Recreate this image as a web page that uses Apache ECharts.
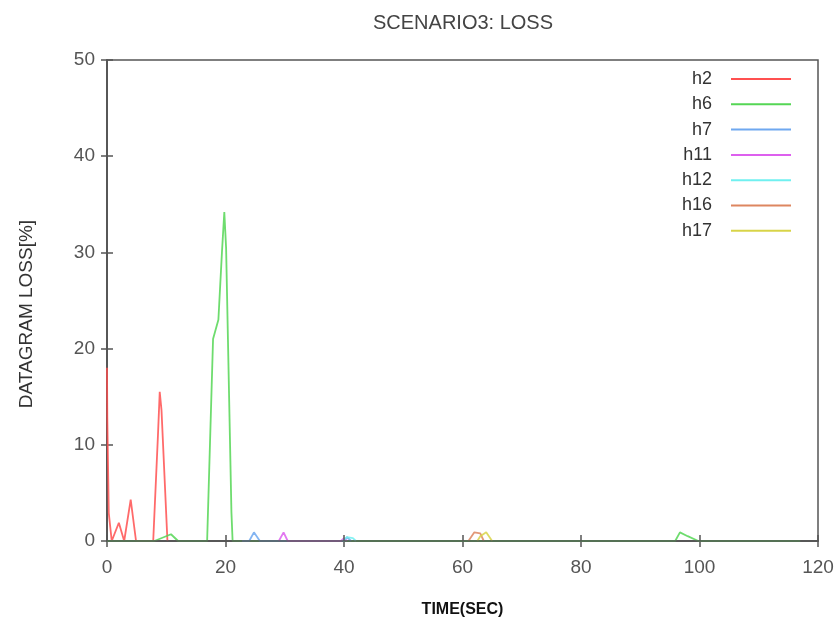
<!DOCTYPE html>
<html>
<head>
<meta charset="utf-8">
<script src="https://cdn.jsdelivr.net/npm/echarts@6/dist/echarts.min.js"></script>
<style>
  html, body { margin: 0; padding: 0; background: #fff; }
  #chart { width: 840px; height: 626px; }
</style>
</head>
<body>
<div id="chart"></div>
<script>
// Datagram loss per host, [time (s), loss %]
const h2 = [[0,18],[0.05,12.9],[0.3,2.9],[0.8,0],[2,1.9],[2.9,0],[4,4.3],[4.9,0],[7.8,0],[8.6,11],[8.9,15.5],[9.2,13.6],[10.2,0]];
const h6 = [[0,0],[8,0],[10.8,0.7],[12,0],[16.9,0],[17.9,21],[18.8,23],[19.4,30],[19.8,34.2],[20.1,30.5],[21,3],[21.2,0],[95.9,0],[96.7,0.9],[98,0.5],[99.8,0],[117,0]];
const h7 = [[22.8,0],[24,0],[24.8,0.9],[25.8,0],[40,0],[40.5,0.4],[41.2,0]];
const h11 = [[29,0],[29.8,0.9],[30.5,0],[39.5,0],[40,0.3],[40.5,0]];
const h12 = [[39.8,0],[40.5,0.4],[41.5,0.3],[42,0]];
const h16 = [[61,0],[62,0.9],[63,0.8],[63.6,0]];
const h17 = [[62.5,0],[63,0.5],[64,0.9],[65,0]];

const seriesNames = ['h2','h6','h7','h11','h12','h16','h17'];
const seriesData = [h2, h6, h7, h11, h12, h16, h17];
const seriesColors = ['#ff5050','#55d655','#6fa8f0','#dd60ee','#70f0f0','#dd8660','#d8d448'];

const xTicks = { min: 0, max: 120, interval: 20 };
const yTicks = { min: 0, max: 50, interval: 10 };

const chart = echarts.init(document.getElementById('chart'));

const fontFamily = '"Liberation Sans", Arial, sans-serif';
const axisCommon = {
  axisLine: { show: true, lineStyle: { color: '#555', width: 1.5 } },
  axisTick: { show: true, inside: true, length: 6, lineStyle: { color: '#555', width: 1.5 } },
  splitLine: { show: false }
};

// one legend per entry so text is right aligned next to its line sample
const legends = seriesNames.map((name, i) => ({
  data: [name],
  right: 44,
  top: 65 + i * 25.3,
  align: 'right',
  icon: 'rect',
  itemWidth: 60,
  itemHeight: 2,
  textStyle: { fontFamily, fontSize: 18, color: '#333', padding: [0, 14, 0, 0] }
}));

chart.setOption({
  animation: false,
  backgroundColor: '#fff',
  title: {
    text: 'SCENARIO3: LOSS',
    left: 458, top: 8, textAlign: 'center',
    textStyle: { fontFamily, fontSize: 20, fontWeight: 'normal', color: '#444' }
  },
  legend: legends,
  graphic: [{
    type: 'text',
    x: 27, y: 314,
    rotation: Math.PI / 2,
    style: {
      text: 'DATAGRAM LOSS[%]',
      font: '19px "Liberation Sans", Arial, sans-serif',
      fill: '#333',
      align: 'center',
      verticalAlign: 'middle'
    }
  }],
  grid: { left: 107, right: 22, top: 60, bottom: 85, show: true, borderColor: '#555', borderWidth: 1.5 },
  xAxis: [
    Object.assign({
      type: 'value', position: 'bottom', min: xTicks.min, max: xTicks.max, interval: xTicks.interval,
      z: 5,
      name: 'TIME(SEC)', nameLocation: 'middle', nameGap: 61,
      nameTextStyle: { fontFamily, fontSize: 16, fontWeight: 'bold', color: '#111' },
      axisLabel: { fontFamily, fontSize: 19, color: '#555', margin: 17 }
    }, axisCommon),
    Object.assign({
      type: 'value', position: 'top', min: xTicks.min, max: xTicks.max, interval: xTicks.interval,
      axisLabel: { show: false }
    }, axisCommon)
  ],
  yAxis: [
    Object.assign({
      type: 'value', position: 'left', min: yTicks.min, max: yTicks.max, interval: yTicks.interval,
      axisLabel: { fontFamily, fontSize: 19, color: '#555', margin: 12 }
    }, axisCommon),
    Object.assign({
      type: 'value', position: 'right', min: yTicks.min, max: yTicks.max, interval: yTicks.interval,
      axisLabel: { show: false }
    }, axisCommon)
  ],
  series: seriesNames.map((name, i) => ({
    name,
    type: 'line',
    data: seriesData[i],
    showSymbol: false,
    symbol: 'none',
    color: seriesColors[i],
    lineStyle: { width: 1.8, color: seriesColors[i], opacity: 0.85 },
    z: 2
  }))
});
</script>
</body>
</html>
